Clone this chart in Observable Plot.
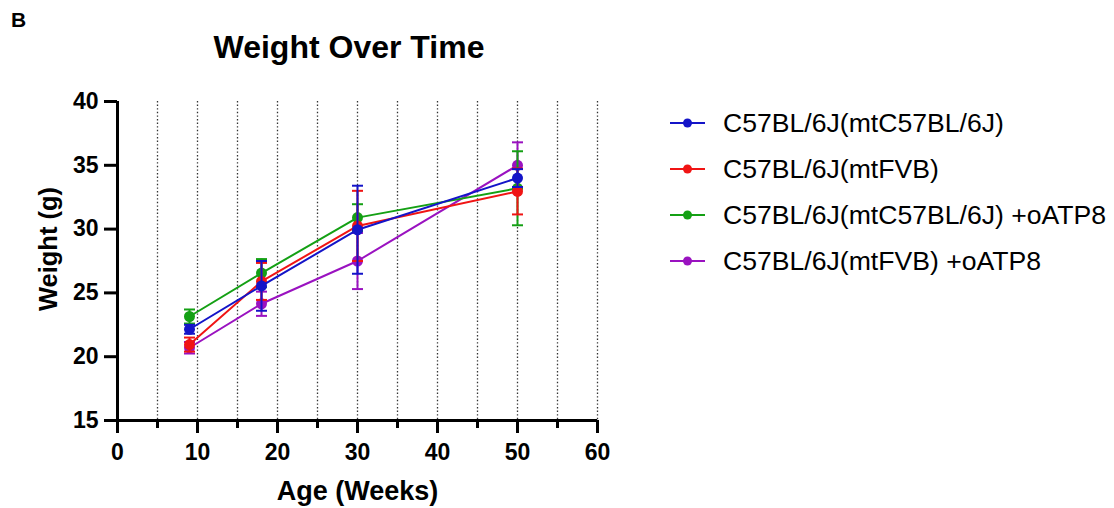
<!DOCTYPE html>
<html><head><meta charset="utf-8">
<script src="https://cdn.jsdelivr.net/npm/d3@7"></script>
<script src="https://cdn.jsdelivr.net/npm/@observablehq/plot@0.6"></script>
<style>
body{margin:0;background:#fff;font-family:"Liberation Sans",Arial,sans-serif;color:#000;}
#wrap{position:relative;width:1114px;height:508px;overflow:hidden;background:#fff;}
#panel{position:absolute;left:11px;top:9px;font-size:21px;font-weight:bold;line-height:1;}
#title{position:absolute;left:0;width:698px;top:31px;text-align:center;font-size:32px;font-weight:bold;line-height:1;}
#chart{position:absolute;left:0;top:70px;}
#legend{position:absolute;left:668px;top:100px;}
.row{display:flex;align-items:center;height:46px;}
.row svg{display:block;margin-right:15px;}
.row span{font-size:26.6px;line-height:1;white-space:nowrap;}
</style></head><body>
<div id="wrap">
  <div id="panel">B</div>
  <div id="title">Weight Over Time</div>
  <div id="chart"></div>
  <div id="legend"></div>
</div>
<script>
// ---- data ----
const weeks = [9, 18, 30, 50];
const seriesNames = [
  "C57BL/6J(mtC57BL/6J)",
  "C57BL/6J(mtFVB)",
  "C57BL/6J(mtC57BL/6J) +oATP8",
  "C57BL/6J(mtFVB) +oATP8"
];
const seriesColors = ["#1414c8", "#f01414", "#14a014", "#9a12c0"];
const meanC57 = [22.15, 25.55, 29.95, 34.0];
const meanFVB = [20.95, 25.9, 30.25, 32.95];
const meanC57oATP8 = [23.15, 26.55, 30.9, 33.2];
const meanFVBoATP8 = [20.7, 24.15, 27.5, 35.0];
const semC57 = [0.35, 1.95, 3.45, 0.7];
const semFVB = [0.55, 1.45, 2.75, 1.8];
const semC57oATP8 = [0.55, 1.1, 1.05, 2.9];
const semFVBoATP8 = [0.45, 0.95, 2.2, 1.8];
const xMajorTicks = [0, 10, 20, 30, 40, 50, 60];
const xMinorTicks = [5, 15, 25, 35, 45, 55];
const xGridTicks = [5, 10, 15, 20, 25, 30, 35, 40, 45, 50, 55, 60];
const yTicks = [15, 20, 25, 30, 35, 40];

const means = [meanC57, meanFVB, meanC57oATP8, meanFVBoATP8];
const sems = [semC57, semFVB, semC57oATP8, semFVBoATP8];
const drawOrder = [3, 2, 1, 0];

const capSymbol = {
  draw(ctx, size) {
    const w = Math.sqrt(size / Math.PI);
    ctx.moveTo(-w, 0); ctx.lineTo(w, 0);
  }
};

const seriesMarks = [];
for (const i of drawOrder) {
  const rows = weeks.map((w, j) => ({week: w, mean: means[i][j], lo: means[i][j] - sems[i][j], hi: means[i][j] + sems[i][j]}));
  const c = seriesColors[i];
  seriesMarks.push(
    Plot.line(rows, {x: "week", y: "mean", stroke: c, strokeWidth: 2}),
    Plot.ruleX(rows, {x: "week", y1: "lo", y2: "hi", stroke: c, strokeWidth: 2}),
    Plot.dot(rows, {x: "week", y: "hi", symbol: capSymbol, r: 5.5, stroke: c, strokeWidth: 2, fill: "none"}),
    Plot.dot(rows, {x: "week", y: "lo", symbol: capSymbol, r: 5.5, stroke: c, strokeWidth: 2, fill: "none"}),
    Plot.dot(rows, {x: "week", y: "mean", r: 5.5, fill: c, stroke: "none"})
  );
}

const chart = Plot.plot({
  width: 620,
  height: 438,
  marginTop: 31,
  marginBottom: 88,
  marginLeft: 117,
  marginRight: 23,
  style: {fontFamily: "'Liberation Sans', Arial, sans-serif", fontWeight: "bold", fontSize: "23px", color: "#000", background: "transparent", overflow: "visible"},
  x: {domain: [0, 60]},
  y: {domain: [15, 40]},
  marks: [
    Plot.gridX(xGridTicks, {stroke: "#333", strokeOpacity: 1, strokeWidth: 1.3, strokeDasharray: "1.4,2.2"}),
    ...seriesMarks,
    Plot.ruleY([15], {stroke: "#000", strokeWidth: 3}),
    Plot.ruleX([0], {stroke: "#000", strokeWidth: 3}),
    Plot.axisX(xMajorTicks, {tickSize: 13, tickPadding: 10, strokeWidth: 3, fontSize: 23, label: null, tickFormat: d => String(d)}),
    Plot.axisX(xMinorTicks, {tickSize: 8, strokeWidth: 3, label: null, tickFormat: () => ""}),
    Plot.axisY(yTicks, {tickSize: 13, tickPadding: 6, strokeWidth: 3, fontSize: 23, label: null, tickFormat: d => String(d)}),
    Plot.text(["Age (Weeks)"], {frameAnchor: "bottom", dy: 79, fontSize: 27, fontWeight: "bold", textAnchor: "middle"}),
    Plot.text(["Weight (g)"], {frameAnchor: "left", dx: -69, dy: -12, rotate: -90, fontSize: 25.5, fontWeight: "bold", textAnchor: "middle"})
  ]
});
document.getElementById("chart").appendChild(chart);

// legend
const legend = document.getElementById("legend");
seriesNames.forEach((name, i) => {
  const row = document.createElement("div");
  row.className = "row";
  const ns = "http://www.w3.org/2000/svg";
  const sw = document.createElementNS(ns, "svg");
  sw.setAttribute("width", 40); sw.setAttribute("height", 14);
  const ln = document.createElementNS(ns, "line");
  ln.setAttribute("x1", 2); ln.setAttribute("x2", 37); ln.setAttribute("y1", 7); ln.setAttribute("y2", 7);
  ln.setAttribute("stroke", seriesColors[i]); ln.setAttribute("stroke-width", 2);
  const ci = document.createElementNS(ns, "circle");
  ci.setAttribute("cx", 19.5); ci.setAttribute("cy", 7); ci.setAttribute("r", 4.5);
  ci.setAttribute("fill", seriesColors[i]);
  sw.appendChild(ln); sw.appendChild(ci);
  const sp = document.createElement("span");
  sp.textContent = name;
  row.appendChild(sw); row.appendChild(sp);
  legend.appendChild(row);
});
</script>
</body></html>
